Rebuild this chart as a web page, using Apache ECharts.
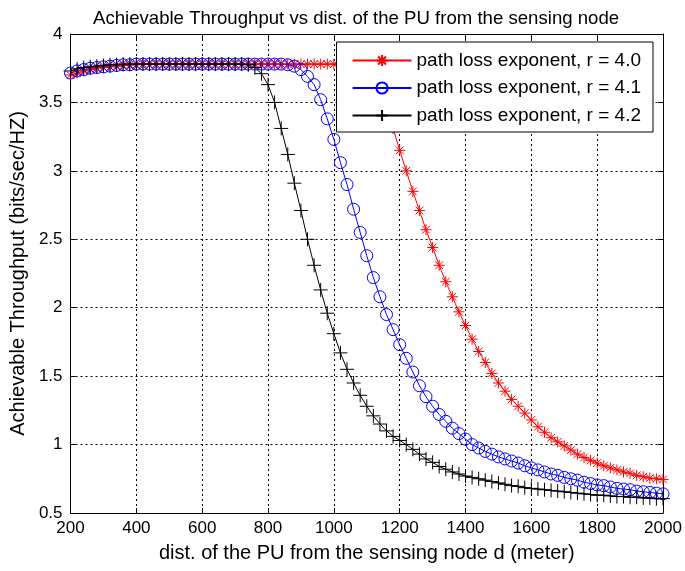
<!DOCTYPE html>
<html>
<head>
<meta charset="utf-8">
<title>Achievable Throughput</title>
<script src="https://cdn.jsdelivr.net/npm/echarts@6/dist/echarts.min.js"></script>
<style>
  html, body { margin: 0; padding: 0; background: #fff; }
  #chart { width: 685px; height: 571px; }
</style>
</head>
<body>
<div id="chart"></div>
<script>
// distance of the PU from the sensing node (meter), one point every 20 m
const distances = [
  200, 220, 240, 260, 280, 300, 320, 340, 360, 380,
  400, 420, 440, 460, 480, 500, 520, 540, 560, 580,
  600, 620, 640, 660, 680, 700, 720, 740, 760, 780,
  800, 820, 840, 860, 880, 900, 920, 940, 960, 980,
  1000, 1020, 1040, 1060, 1080, 1100, 1120, 1140, 1160, 1180,
  1200, 1220, 1240, 1260, 1280, 1300, 1320, 1340, 1360, 1380,
  1400, 1420, 1440, 1460, 1480, 1500, 1520, 1540, 1560, 1580,
  1600, 1620, 1640, 1660, 1680, 1700, 1720, 1740, 1760, 1780,
  1800, 1820, 1840, 1860, 1880, 1900, 1920, 1940, 1960, 1980,
  2000
];

// r = 4.0
const throughputR40 = [
  3.70, 3.715, 3.73, 3.74, 3.75, 3.755, 3.76, 3.765, 3.77, 3.775,
  3.775, 3.78, 3.78, 3.78, 3.78, 3.78, 3.78, 3.78, 3.78, 3.78,
  3.78, 3.78, 3.78, 3.78, 3.78, 3.78, 3.78, 3.78, 3.78, 3.78,
  3.78, 3.78, 3.78, 3.78, 3.78, 3.78, 3.78, 3.78, 3.78, 3.78,
  3.78, 3.78, 3.78, 3.775, 3.76, 3.73, 3.67, 3.58, 3.46, 3.31,
  3.15, 3.00, 2.85, 2.71, 2.57, 2.44, 2.31, 2.19, 2.08, 1.97,
  1.87, 1.77, 1.68, 1.60, 1.52, 1.45, 1.39, 1.33, 1.28, 1.23,
  1.18, 1.13, 1.09, 1.05, 1.02, 0.99, 0.96, 0.93, 0.905, 0.885,
  0.865, 0.845, 0.83, 0.815, 0.80, 0.79, 0.775, 0.765, 0.755, 0.75,
  0.745
];

// r = 4.1
const throughputR41 = [
  3.715, 3.73, 3.74, 3.75, 3.755, 3.76, 3.765, 3.77, 3.775, 3.775,
  3.78, 3.78, 3.78, 3.78, 3.78, 3.78, 3.78, 3.78, 3.78, 3.78,
  3.78, 3.78, 3.78, 3.78, 3.78, 3.78, 3.78, 3.78, 3.78, 3.78,
  3.78, 3.78, 3.78, 3.775, 3.765, 3.74, 3.69, 3.63, 3.52, 3.38,
  3.23, 3.06, 2.90, 2.72, 2.55, 2.38, 2.22, 2.08, 1.95, 1.84,
  1.73, 1.63, 1.53, 1.43, 1.35, 1.28, 1.22, 1.17, 1.12, 1.08,
  1.04, 1.00, 0.975, 0.95, 0.93, 0.91, 0.895, 0.88, 0.865, 0.845,
  0.83, 0.815, 0.80, 0.785, 0.775, 0.76, 0.75, 0.74, 0.725, 0.715,
  0.705, 0.70, 0.69, 0.68, 0.675, 0.67, 0.66, 0.655, 0.65, 0.645,
  0.64
];

// r = 4.2
const throughputR42 = [
  3.73, 3.745, 3.755, 3.76, 3.765, 3.77, 3.775, 3.775, 3.78, 3.78,
  3.78, 3.78, 3.78, 3.78, 3.78, 3.78, 3.78, 3.78, 3.78, 3.78,
  3.78, 3.78, 3.78, 3.78, 3.78, 3.78, 3.78, 3.775, 3.755, 3.71,
  3.63, 3.50, 3.31, 3.12, 2.91, 2.71, 2.50, 2.31, 2.13, 1.96,
  1.81, 1.67, 1.55, 1.45, 1.36, 1.28, 1.21, 1.15, 1.10, 1.06,
  1.03, 1.00, 0.965, 0.93, 0.895, 0.87, 0.84, 0.82, 0.80, 0.785,
  0.77, 0.76, 0.75, 0.74, 0.73, 0.72, 0.71, 0.70, 0.695, 0.685,
  0.68, 0.675, 0.67, 0.665, 0.66, 0.655, 0.65, 0.645, 0.64, 0.635,
  0.63, 0.63, 0.625, 0.62, 0.62, 0.615, 0.615, 0.61, 0.61, 0.605,
  0.605
];

const legendNames = [
  'path loss exponent, r = 4.0',
  'path loss exponent, r = 4.1',
  'path loss exponent, r = 4.2'
];

const FONT = "'Liberation Sans', Arial, Helvetica, sans-serif";

// marker shapes (matlab style)
const starSymbol = 'path://M5,0L5,10M0,5L10,5M1.5,1.5L8.5,8.5M1.5,8.5L8.5,1.5';
const plusSymbol = 'path://M0,5L10,5M5,0L5,10';

const toPairs = ys => distances.map((d, i) => [d, ys[i]]);

const chart = echarts.init(document.getElementById('chart'), null, { renderer: 'canvas' });

// shared axis look
const gridLine = { show: true, lineStyle: { color: '#000', type: [2, 3], width: 1 } };
const boxLine = { show: true, lineStyle: { color: '#000', width: 1 } };
const innerTick = { show: true, inside: true, length: 5, lineStyle: { color: '#000' } };

chart.setOption({
  animation: false,
  backgroundColor: '#fff',
  title: {
    text: 'Achievable Throughput vs dist. of the PU from the sensing node',
    left: 88,
    top: 4,
    textStyle: { fontFamily: FONT, fontSize: 18.6, fontWeight: 'normal', color: '#000' }
  },
  grid: { left: 69, right: 22, top: 34, bottom: 58, containLabel: false },
  legend: {
    orient: 'vertical',
    right: 32,
    top: 42,
    data: legendNames,
    itemWidth: 59,
    itemHeight: 14,
    itemGap: 8.5,
    padding: [9, 12, 7, 15],
    borderColor: '#000',
    borderWidth: 1,
    backgroundColor: '#fff',
    textStyle: { fontFamily: FONT, fontSize: 19, color: '#000' }
  },
  xAxis: [
    {
      type: 'value',
      min: 200,
      max: 2000,
      interval: 200,
      position: 'bottom',
      name: 'dist. of the PU from the sensing node d (meter)',
      nameLocation: 'middle',
      nameGap: 30,
      nameTextStyle: { fontFamily: FONT, fontSize: 20, color: '#000' },
      axisLine: boxLine,
      axisTick: innerTick,
      axisLabel: { fontFamily: FONT, fontSize: 17, color: '#000', margin: 7, formatter: v => String(v) },
      splitLine: gridLine
    },
    {
      type: 'value',
      min: 200,
      max: 2000,
      interval: 200,
      position: 'top',
      axisLine: boxLine,
      axisTick: innerTick,
      axisLabel: { show: false },
      splitLine: { show: false }
    }
  ],
  yAxis: [
    {
      type: 'value',
      min: 0.5,
      max: 4,
      interval: 0.5,
      position: 'left',
      name: 'Achievable Throughput (bits/sec/HZ)',
      nameLocation: 'middle',
      nameGap: 41,
      nameTextStyle: { fontFamily: FONT, fontSize: 20, color: '#000' },
      axisLine: boxLine,
      axisTick: innerTick,
      axisLabel: { fontFamily: FONT, fontSize: 17, color: '#000', margin: 8 },
      splitLine: gridLine
    },
    {
      type: 'value',
      min: 0.5,
      max: 4,
      interval: 0.5,
      position: 'right',
      axisLine: boxLine,
      axisTick: innerTick,
      axisLabel: { show: false },
      splitLine: { show: false }
    }
  ],
  series: [
    {
      name: legendNames[0],
      type: 'line',
      data: toPairs(throughputR40),
      symbol: starSymbol,
      symbolSize: 11,
      showAllSymbol: true,
      lineStyle: { color: '#ff0000', width: 1 },
      itemStyle: { color: 'rgba(0,0,0,0)', borderColor: '#ff0000', borderWidth: 1 }
    },
    {
      name: legendNames[1],
      type: 'line',
      data: toPairs(throughputR41),
      symbol: 'circle',
      symbolSize: 12,
      showAllSymbol: true,
      lineStyle: { color: '#0000ff', width: 1 },
      itemStyle: { color: 'rgba(0,0,0,0)', borderColor: '#0000ff', borderWidth: 1 }
    },
    {
      name: legendNames[2],
      type: 'line',
      data: toPairs(throughputR42),
      symbol: plusSymbol,
      symbolSize: 14,
      showAllSymbol: true,
      lineStyle: { color: '#000000', width: 1 },
      itemStyle: { color: 'rgba(0,0,0,0)', borderColor: '#000000', borderWidth: 1 }
    }
  ]
});
</script>
</body>
</html>
